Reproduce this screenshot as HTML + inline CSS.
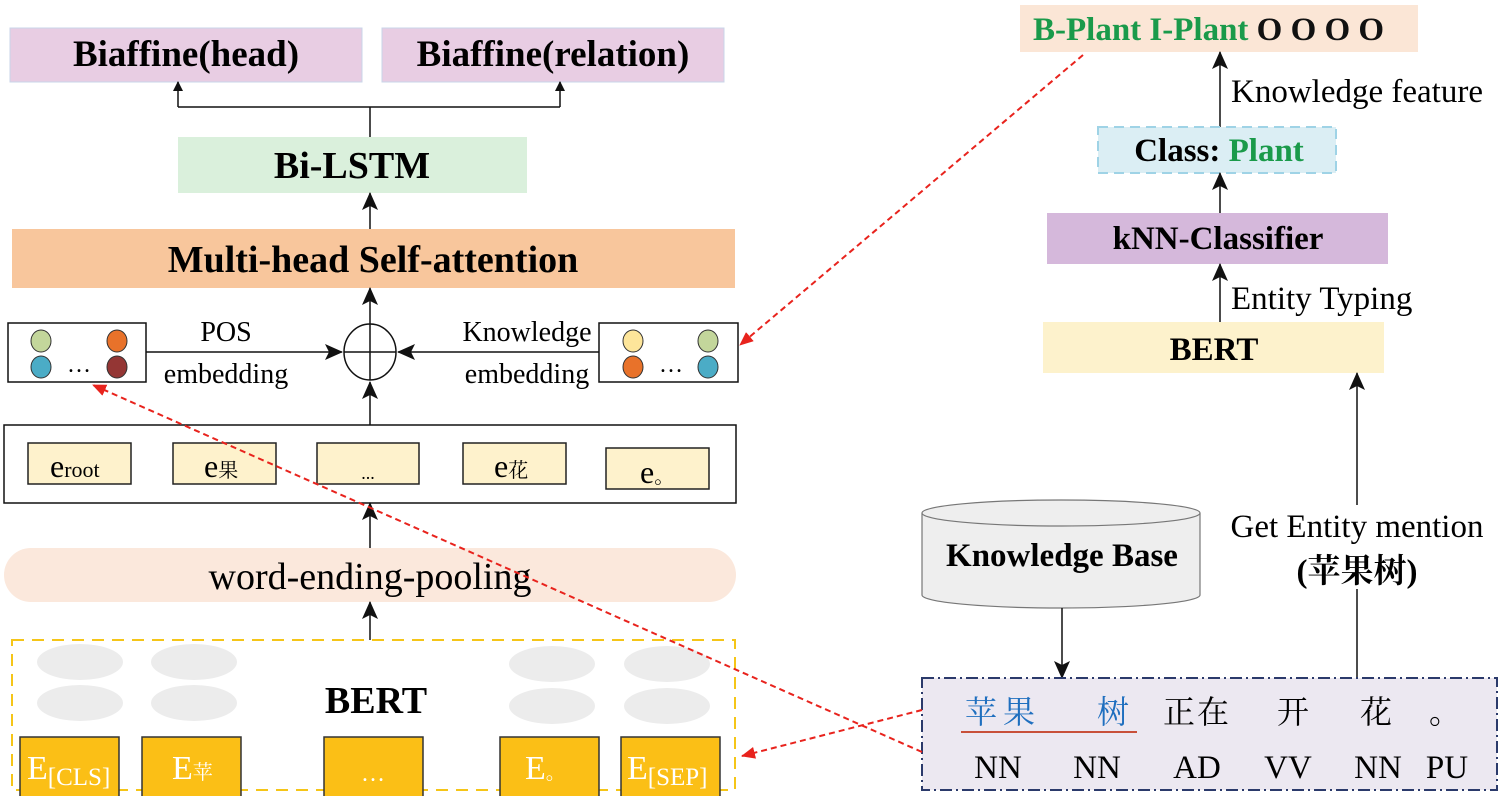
<!DOCTYPE html>
<html><head><meta charset="utf-8"><style>
html,body{margin:0;padding:0;background:#fff;}
svg{display:block;}
text{font-family:"Liberation Serif","Noto Serif CJK SC",serif;}
.b{font-weight:bold;}
.cj{font-family:"Liberation Serif","Noto Serif CJK SC","Noto Sans CJK SC",serif;}
</style></head><body>
<svg width="1500" height="796" viewBox="0 0 1500 796" xmlns="http://www.w3.org/2000/svg">
<defs>
<marker id="ar" markerWidth="10" markerHeight="10" refX="9" refY="5" orient="auto" markerUnits="userSpaceOnUse"><path d="M0,0 L10,5 L0,10 Z" fill="#111"/></marker>
<marker id="ab" markerWidth="18" markerHeight="16" refX="17" refY="8" orient="auto" markerUnits="userSpaceOnUse"><path d="M0,0 L18,8 L0,16 L4,8 Z" fill="#111"/></marker>
<marker id="rr" markerWidth="14" markerHeight="12" refX="13" refY="6" orient="auto" markerUnits="userSpaceOnUse"><path d="M0,0 L14,6 L0,12 Z" fill="#e8231d"/></marker>
</defs>

<!-- Left column -->
<rect x="10" y="28" width="352" height="54" fill="#e8cde3" stroke="#c9d5e8" stroke-width="1"/>
<text x="186" y="66" font-size="37" class="b" text-anchor="middle">Biaffine(head)</text>
<rect x="382" y="28" width="342" height="54" fill="#e8cde3" stroke="#c9d5e8" stroke-width="1"/>
<text x="553" y="66" font-size="37" class="b" text-anchor="middle">Biaffine(relation)</text>
<path d="M370 137 V107 M178 107 H560" stroke="#111" stroke-width="1.5" fill="none"/>
<line x1="178" y1="107" x2="178" y2="82" stroke="#111" stroke-width="1.5" marker-end="url(#ar)"/>
<line x1="560" y1="107" x2="560" y2="82" stroke="#111" stroke-width="1.5" marker-end="url(#ar)"/>

<rect x="178" y="137" width="349" height="56" fill="#daf0dc"/>
<text x="352" y="178" font-size="38" class="b" text-anchor="middle">Bi-LSTM</text>
<line x1="370" y1="229" x2="370" y2="193" stroke="#111" stroke-width="1.5" marker-end="url(#ab)"/>

<rect x="12" y="229" width="723" height="59" fill="#f8c69c"/>
<text x="373" y="272" font-size="38" class="b" text-anchor="middle">Multi-head Self-attention</text>
<line x1="370" y1="325" x2="370" y2="288" stroke="#111" stroke-width="1.5" marker-end="url(#ab)"/>

<ellipse cx="370" cy="352" rx="26" ry="28" fill="#fff" stroke="#111" stroke-width="1.5"/>
<path d="M344 352 H396 M370 324 V380" stroke="#111" stroke-width="1.5"/>

<rect x="8" y="323" width="138" height="59" fill="#fff" stroke="#111" stroke-width="1.5"/>
<ellipse cx="41" cy="341" rx="10" ry="11" fill="#c3d69b" stroke="#333"/>
<ellipse cx="117" cy="341" rx="10" ry="11" fill="#e8722a" stroke="#333"/>
<ellipse cx="41" cy="367" rx="10" ry="11" fill="#4bacc6" stroke="#333"/>
<ellipse cx="117" cy="367" rx="10" ry="11" fill="#943634" stroke="#333"/>
<text x="79" y="372" font-size="24" text-anchor="middle">…</text>

<rect x="599" y="323" width="139" height="59" fill="#fff" stroke="#111" stroke-width="1.5"/>
<ellipse cx="633" cy="341" rx="10" ry="11" fill="#fde59a" stroke="#333"/>
<ellipse cx="708" cy="341" rx="10" ry="11" fill="#c3d69b" stroke="#333"/>
<ellipse cx="633" cy="367" rx="10" ry="11" fill="#e8722a" stroke="#333"/>
<ellipse cx="708" cy="367" rx="10" ry="11" fill="#4bacc6" stroke="#333"/>
<text x="671" y="372" font-size="24" text-anchor="middle">…</text>

<line x1="146" y1="352" x2="342" y2="352" stroke="#111" stroke-width="1.5" marker-end="url(#ab)"/>
<line x1="599" y1="352" x2="398" y2="352" stroke="#111" stroke-width="1.5" marker-end="url(#ab)"/>
<text x="226" y="341" font-size="28" text-anchor="middle">POS</text>
<text x="226" y="383" font-size="28" text-anchor="middle">embedding</text>
<text x="527" y="341" font-size="28" text-anchor="middle">Knowledge</text>
<text x="527" y="383" font-size="28" text-anchor="middle">embedding</text>

<line x1="370" y1="425" x2="370" y2="382" stroke="#111" stroke-width="1.5" marker-end="url(#ab)"/>
<rect x="4" y="425" width="732" height="78" fill="#fff" stroke="#111" stroke-width="1.5"/>
<g stroke="#222" stroke-width="1.5" fill="#fef2cc">
<rect x="28" y="443" width="103" height="41"/>
<rect x="173" y="443" width="103" height="41"/>
<rect x="317" y="443" width="102" height="41"/>
<rect x="463" y="443" width="103" height="41"/>
<rect x="606" y="448" width="103" height="41"/>
</g>
<text x="50" y="477" font-size="32">e<tspan font-size="22">root</tspan></text>
<text x="204" y="477" font-size="32" class="cj">e<tspan font-size="20">果</tspan></text>
<text x="368" y="479" font-size="18" text-anchor="middle">...</text>
<text x="494" y="477" font-size="32" class="cj">e<tspan font-size="20">花</tspan></text>
<text x="640" y="483" font-size="32" class="cj">e<tspan font-size="20">。</tspan></text>

<line x1="370" y1="548" x2="370" y2="503" stroke="#111" stroke-width="1.5" marker-end="url(#ab)"/>
<rect x="4" y="548" width="732" height="54" rx="27" fill="#fbe8dc"/>
<text x="370" y="589" font-size="38" text-anchor="middle">word-ending-pooling</text>
<line x1="370" y1="640" x2="370" y2="602" stroke="#111" stroke-width="1.5" marker-end="url(#ab)"/>

<rect x="12" y="640" width="723" height="150" fill="#fff" stroke="#f5c518" stroke-width="2" stroke-dasharray="12,8"/>
<g fill="#ececec">
<ellipse cx="80" cy="662" rx="43" ry="18"/><ellipse cx="80" cy="703" rx="43" ry="18"/>
<ellipse cx="194" cy="662" rx="43" ry="18"/><ellipse cx="194" cy="703" rx="43" ry="18"/>
<ellipse cx="552" cy="664" rx="43" ry="18"/><ellipse cx="552" cy="706" rx="43" ry="18"/>
<ellipse cx="667" cy="664" rx="43" ry="18"/><ellipse cx="667" cy="706" rx="43" ry="18"/>
</g>
<text x="376" y="713" font-size="38" class="b" text-anchor="middle">BERT</text>
<g fill="#fbbf16" stroke="#333" stroke-width="1.5">
<rect x="20" y="737" width="99" height="62"/>
<rect x="142" y="737" width="99" height="62"/>
<rect x="324" y="737" width="99" height="62"/>
<rect x="500" y="737" width="99" height="62"/>
<rect x="621" y="737" width="99" height="62"/>
</g>
<text x="27" y="779" font-size="34" fill="#fff">E<tspan font-size="25" dy="6">[CLS]</tspan></text>
<text x="172" y="779" font-size="34" fill="#fff" class="cj">E<tspan font-size="20">苹</tspan></text>
<text x="373" y="781" font-size="24" fill="#fff" text-anchor="middle">…</text>
<text x="525" y="779" font-size="34" fill="#fff" class="cj">E<tspan font-size="20">。</tspan></text>
<text x="627" y="779" font-size="34" fill="#fff">E<tspan font-size="25" dy="6">[SEP]</tspan></text>

<!-- Right column -->
<rect x="1020" y="5" width="398" height="47" fill="#fbe6d6"/>
<text x="1033" y="40" font-size="33" class="b"><tspan fill="#1a9a4a">B-Plant  I-Plant</tspan><tspan fill="#111"> O O O O</tspan></text>
<line x1="1220" y1="127" x2="1220" y2="52" stroke="#111" stroke-width="1.5" marker-end="url(#ab)"/>
<text x="1231" y="102" font-size="33">Knowledge feature</text>
<rect x="1098" y="127" width="238" height="46" fill="#dbeef4" stroke="#9fd3e6" stroke-width="2" stroke-dasharray="10,6"/>
<text x="1219" y="161" font-size="33" class="b" text-anchor="middle">Class: <tspan fill="#1a9a4a">Plant</tspan></text>
<line x1="1220" y1="213" x2="1220" y2="173" stroke="#111" stroke-width="1.5" marker-end="url(#ab)"/>
<rect x="1047" y="213" width="341" height="51" fill="#d5b8db"/>
<text x="1218" y="249" font-size="33" class="b" text-anchor="middle">kNN-Classifier</text>
<line x1="1220" y1="322" x2="1220" y2="264" stroke="#111" stroke-width="1.5" marker-end="url(#ab)"/>
<text x="1231" y="309" font-size="33">Entity Typing</text>
<rect x="1043" y="322" width="341" height="51" fill="#fdf2cc"/>
<text x="1214" y="360" font-size="33" class="b" text-anchor="middle">BERT</text>

<line x1="1357" y1="678" x2="1357" y2="373" stroke="#111" stroke-width="1.5" marker-end="url(#ab)"/>
<rect x="1226" y="505" width="264" height="84" fill="#fff"/>
<text x="1357" y="537" font-size="33" text-anchor="middle">Get Entity mention</text>
<text x="1357" y="582" font-size="33" class="b cj" text-anchor="middle">(苹果树)</text>

<path d="M922 513 V595 A139 13 0 0 0 1200 595 V513" fill="#eeeeee" stroke="#777" stroke-width="1.2"/>
<ellipse cx="1061" cy="513" rx="139" ry="13" fill="#eeeeee" stroke="#777" stroke-width="1.2"/>
<text x="1062" y="566" font-size="33" class="b" text-anchor="middle">Knowledge Base</text>
<line x1="1062" y1="608" x2="1062" y2="678" stroke="#111" stroke-width="1.5" marker-end="url(#ab)"/>

<rect x="922" y="678" width="575" height="112" fill="#ece8f1" stroke="#2b3a6b" stroke-width="2" stroke-dasharray="12,4,2,4"/>
<g font-size="32" class="cj">
<text x="1003" y="723" fill="#1f6fbf" text-anchor="middle" letter-spacing="6">苹果</text>
<text x="1113" y="723" fill="#1f6fbf" text-anchor="middle">树</text>
<text x="1197" y="723" text-anchor="middle" letter-spacing="2">正在</text>
<text x="1293" y="723" text-anchor="middle">开</text>
<text x="1376" y="723" text-anchor="middle">花</text>
<text x="1445" y="723" text-anchor="middle">。</text>
</g>
<line x1="961" y1="732" x2="1137" y2="732" stroke="#c8503a" stroke-width="2"/>
<g font-size="33" text-anchor="middle">
<text x="998" y="778">NN</text><text x="1097" y="778">NN</text><text x="1197" y="778">AD</text>
<text x="1288" y="778">VV</text><text x="1378" y="778">NN</text><text x="1447" y="778">PU</text>
</g>

<!-- red dashed -->
<g stroke="#e8231d" stroke-width="2" stroke-dasharray="6,4" fill="none">
<line x1="1083" y1="55" x2="740" y2="345" marker-end="url(#rr)"/>
<line x1="922" y1="710" x2="742" y2="756" marker-end="url(#rr)"/>
<line x1="922" y1="752" x2="93" y2="385" marker-end="url(#rr)"/>
</g>
</svg>
</body></html>
